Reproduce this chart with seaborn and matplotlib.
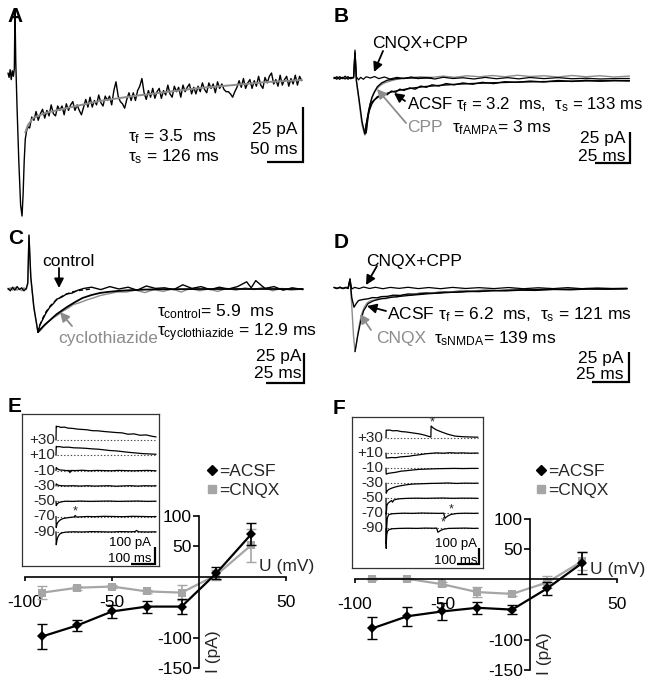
import pandas as pd
import seaborn as sns
import matplotlib.pyplot as plt
from matplotlib.lines import Line2D
from matplotlib.patches import FancyArrowPatch

sns.set_style("white")
plt.rcParams["font.family"] = ["Liberation Sans", "DejaVu Sans"]
plt.rcParams["mathtext.fontset"] = "custom"
plt.rcParams["mathtext.rm"] = "Liberation Sans"
plt.rcParams["mathtext.it"] = "Liberation Sans"
plt.rcParams["mathtext.bf"] = "Liberation Sans:bold"
plt.rcParams["axes.unicode_minus"] = False

GREY = "#8c8c8c"
LGREY = "#a6a6a6"

# ---------------- data (time in ms, current in pA) ----------------
# A: sEPSC with double exponential fit
a_t_fast = [0, 1.5, 3, 4.5, 6, 7.5, 8.8, 9.7, 10.8, 12.5, 15, 17.5, 19.5, 21, 22.5, 24, 26, 28]
a_i_fast = [0, -2, 1.5, -3, 1, -1.5, 2, 29, 5, -15, -40, -60, -65, -55, -40, -30, -26, -24.5]
a_t_slow = list(range(30, 409, 3))  # sampling grid of the slow phase
a_i_slow = [-25, -20, -21.5, -17.5, -21.5, -18.5, -16.5, -20.5, -17, -19.5,
            -14.5, -18.5, -19.5, -15, -17, -15, -19, -14, -17, -14.5,
            -13, -17, -14.5, -17, -19, -15.5, -12, -15.5, -11, -15.5,
            -12.5, -14.5, -10, -13.5, -15, -10.5, -12.5, -10.5, -14.5, -8,
            -4, -10.5, -13, -14, -16, -12, -9, -12.5, -9, -12.5,
            -8, -6, -2.5, -9, -12, -8, -11, -7, -11.5, -8.5,
            -7, -11.5, -8, -10, -5.5, -9.5, -11, -6, -8.5, -6.5,
            -11, -5.5, -8.5, -6.5, -5, -9.5, -6.5, -9.5, -6, -8.5,
            -4.5, -7.5, -9, -4.5, -7, -5, -9, -4, -7, -5,
            -7.5, -8.5, -8.5, -9.5, -11, -8.5, -6.5, -3.5, -6.5, -2.5,
            -7, -4.5, -3, -7, -3.5, -6, -1.5, -5.5, -7, -2,
            -4.5, -1.5, 0, -5, -3, -6, -1, -5.5, -3, -1.5,
            -6, -2.5, -5, -1, -5.5, -1.5, -3.5]
a_fit_t = [24, 27.8, 34.7, 51.4, 81.9, 127.8, 173.6, 220.8, 266.7, 312.5, 359.7, 408.3]
a_fit_i = [-27, -23.6, -20.5, -18.2, -15.9, -12.7, -10.5, -8.6, -6.8, -5.5, -4.1, -3.2]

# B: ACSF / CPP / CNQX+CPP
b_cc_t = [0, 2, 4, 6, 8, 10, 12, 14, 15, 16, 17.5, 19, 21, 23, 26, 29, 32, 36, 40, 45, 50, 55, 60,
          66, 72, 78, 85, 92, 100, 108, 116, 124, 132, 140, 150, 160, 170, 180, 190, 200, 211]
b_cc_i = [0.5, -1, 1, -0.5, 1.5, -1, 0.5, 0, 22.5, 1, -1.5, 0.5, -1, 1, 0, 1.2, -0.5, 0.8, -0.8,
          0.5, -0.5, 0.8, -0.5, 0.3, -0.8, 0.6, -0.4, 0.2, -0.8, 0.5, -0.6, 0.3, -0.7, 0.4, -0.5,
          0.3, -0.6, -0.2, -0.8, -0.5, -0.4]
b_acsf_t = [0, 2, 4, 6, 8, 10, 12, 14, 15, 16, 18, 20, 22, 23, 24.5, 26, 27.5, 29, 31, 33, 35, 38,
            41, 44, 47, 50, 54, 58, 62, 66, 70, 75, 80, 86, 92, 99, 106, 114, 122, 130, 140, 150,
            160, 170, 180, 190, 200, 211]
b_acsf_i = [-0.5, 1, -1, 0.5, -0.5, 1, -0.5, 0.5, 20, -2, -18, -35, -45, -44, -30, -21, -19,
            -17.5, -15, -14.5, -12.5, -13.5, -10.5, -11.5, -9, -10, -8, -9, -6.5, -7.5, -5.5,
            -6.5, -4.5, -5.5, -4, -5, -3.5, -4.5, -3, -3.5, -2.5, -3.2, -2, -2.8, -1.8, -2.6,
            -2, -2.4]
b_cpp_t = [0, 2, 4, 6, 8, 10, 12, 14, 15, 16, 18, 20, 22, 23, 24.5, 26, 28, 30, 33, 36, 40, 45,
           50, 56, 62, 70, 78, 86, 95, 104, 113, 122, 131, 140, 150, 160, 170, 180, 190, 200, 211]
b_cpp_i = [0.5, -0.5, 1, 0, -1, 0.5, -0.5, 1, 21, -3, -20, -38, -46, -44, -28, -20, -13, -9.5,
           -6, -4, -2.5, -1, 0, 0.5, 1, 0.5, 1.5, 0.5, 1.8, 1, 2, 1, 2.2, 1.2, 1.8, 0.8, 2, 1,
           1.8, 0.8, 1.5]
b_ampa_t = [22, 23.5, 25, 27, 29, 31, 34, 38, 44, 55, 70]
b_ampa_i = [-44, -34, -25, -16, -11, -7, -4, -1.8, -0.6, 0, 0]
b_fit_t = [22, 23.5, 25, 27, 29, 32, 36, 41, 47, 55, 64, 75, 88, 100, 115, 135, 160, 185, 211]
b_fit_i = [-44, -35, -27, -21, -17.5, -15, -13, -11.3, -9.8, -8.3, -7, -6, -5, -4.4, -3.8,
           -3.2, -2.7, -2.3, -2.1]

# C: control / cyclothiazide
c_ctl_t = [0, 1.5, 3, 4.5, 6, 7.5, 9, 10.5, 12, 13, 13.8, 15, 17, 19.7, 21, 23, 25, 27.6, 30,
           32, 35, 38.8, 42, 46, 50, 55, 61, 67, 73, 79, 85, 91, 97, 103, 109, 115, 121, 127,
           133, 139, 145, 151, 157, 160, 163, 169, 175, 181, 187, 194]
c_ctl_i = [0.5, -1.5, 1.5, -1, 2, -0.5, 1, -1.5, 0.5, 5, 45, 10, -15, -36, -30, -25, -20, -15,
           -12, -8.5, -7, -4, -3.5, -1, 0.5, 1.5, -0.5, 2, 0, 1.5, -1, 2.5, 0.5, 1, -0.5, 3.5,
           0.5, 2, -0.5, 1.5, 0, 2, 6, 1, 7, 0.5, 2, -1, 1, -0.5]
c_ctz_t = [0, 1.5, 3, 4.5, 6, 7.5, 9, 10.5, 12, 13, 13.8, 15, 17, 19.7, 21, 23, 26, 29.6, 33, 36,
           39.5, 42.8, 47, 52, 56, 60.5, 66, 71.7, 78, 84, 90, 96, 102, 108, 114, 120, 126, 132,
           138, 144, 150, 156, 162, 168, 174, 180, 186, 194]
c_ctz_i = [-0.5, 1, -1, 1.5, -1, 0.5, -1.5, 1, -0.5, 4, 44, 9, -16, -36, -35, -32, -28, -24,
           -21.5, -18.5, -16, -13, -11.5, -9, -7.5, -5.5, -4, -2.5, -2.5, -1, -3, -0.5, -2, 0,
           -2.5, 0.5, -1.5, 0, -2, 0.5, -1, 1, -0.5, 1.5, -1.5, 0.5, -1, 0]
c_fit_t = [19.7, 21, 24, 27.6, 32, 38.8, 44, 49, 55, 60.5, 66, 71.7, 80, 90, 100, 130, 194]
c_fit_i = [-36, -34, -30, -26, -21, -15, -11, -7.5, -5, -3.3, -2.4, -1.7, -1, -0.5, -0.2, 0, 0]
c_dfit_t = [19.7, 21, 23, 25, 27.6, 30, 33, 37, 42, 48, 55]
c_dfit_i = [-36, -30, -24, -19, -14.5, -11, -8, -5, -2.5, -1, 0]

# D: ACSF / CNQX / CNQX+CPP
d_cc_t = [0, 2, 4, 6, 8, 9.5, 10.8, 12, 14, 17, 20, 24, 28, 33, 38, 44, 50, 57, 64, 72, 80, 89,
          98, 108, 118, 128, 138, 148, 158, 168, 178, 188, 198]
d_cc_i = [0.5, -0.5, 0.8, -0.3, 0.6, -0.5, 7.5, -0.8, 0.5, -0.5, 0.8, -0.4, 0.6, -0.6, 0.5, -0.3,
          0.6, -0.5, 0.4, -0.6, 0.5, -0.4, 0.3, -0.5, 0.4, -0.6, 0.2, -0.5, 0.3, -0.6, 0, -0.4,
          -0.2]
d_cnqx_t = [0, 2, 4, 6, 8, 9.5, 10.8, 12, 13.2, 14.2, 15.2, 16.2, 17.5, 18.9, 20.5, 22.3, 25, 28,
            31, 35, 39, 42.6, 47, 52, 58, 65, 72, 78, 86, 94, 102, 112, 122, 132, 145, 158, 171,
            184, 198]
d_cnqx_i = [0.3, -0.5, 0.5, -0.3, 0.5, -0.3, 7, -15, -40, -53, -46, -37, -28, -21, -16, -12.5,
            -10.5, -10, -8.5, -9, -7, -7.5, -5.5, -6, -4, -4.5, -3, -3.5, -2, -2.5, -1.5, -2,
            -1, -1.5, -0.5, -1.2, -0.3, -0.8, -0.5]
d_acsf_t = [0, 2, 4, 6, 8, 9.5, 10.8, 12, 13.5, 15, 16.5, 18, 20, 23, 26, 29, 32, 36, 40, 45, 50,
            56, 62, 68, 75, 82, 90, 98, 107, 116, 126, 136, 148, 160, 172, 185, 198]
d_acsf_i = [0.5, -0.3, 0.4, -0.5, 0.3, -0.2, 7.5, -8, -16, -13, -10.5, -10, -9.5, -9, -8, -8.2,
            -7.2, -7, -6, -6.2, -5, -5.2, -4.2, -4.4, -3.5, -3.6, -2.8, -3, -2.2, -2.4, -1.8,
            -2, -1.2, -1.5, -0.8, -1, -0.6]
d_fit_t = [14.2, 16, 18, 20, 23, 27, 32, 40, 50, 65, 80, 100, 130, 165, 198]
d_fit_i = [-53, -40, -28, -19, -13, -10.5, -9, -7.6, -6.3, -4.7, -3.6, -2.5, -1.5, -0.9, -0.6]

# E / F insets: holding potential (mV) -> (time, current relative to baseline)
hold_mv = [30, 10, -10, -30, -50, -70, -90]
hold_labels = ["+30", "+10", "-10", "-30", "-50", "-70", "-90"]
e_traces = {
    30: ([0, 1, 4, 10, 20, 35, 50, 70, 90, 110, 130, 150, 175, 200, 225, 250, 275, 300, 325, 350, 375, 400, 417],
         [0, 82, 78, 80, 74, 76, 70, 68, 64, 62, 60, 55, 54, 50, 47, 44, 42, 34, 36, 28, 30, 22, 18]),
    10: ([0, 1, 5, 15, 30, 50, 75, 100, 125, 150, 175, 200, 225, 250, 275, 300, 330, 360, 390, 417],
         [0, 53, 50, 51, 47, 48, 44, 43, 41, 38, 36, 32, 28, 26, 22, 18, 14, 10, 8, 6]),
    -10: ([0, 1, 6, 15, 30, 45, 55, 58, 62, 80, 110, 140, 170, 200, 230, 260, 290, 320, 350, 380, 417],
          [0, 18, 10, 4, 2, 0, 1, -12, 1, 0, 2, -1, 1, 0, -1, 1, 0, -1, 0, 1, -1]),
    -30: ([0, 1, 6, 15, 40, 70, 100, 130, 160, 190, 220, 250, 280, 310, 340, 370, 400, 417],
          [0, 12, 6, 2, 0, 1, -1, 1, -1, 0, 1, -2, 0, 1, -1, 1, 0, 1]),
    -50: ([0, 1, 5, 12, 25, 40, 70, 100, 140, 180, 220, 260, 300, 340, 380, 417],
          [0, -26, -16, -8, -3, 0, -1, 1, -1, 0, 1, -1, 0, 1, -1, 0]),
    -70: ([0, 1, 4, 10, 20, 30, 45, 60, 75, 80, 85, 100, 130, 160, 200, 240, 280, 320, 360, 400, 417],
          [0, -65, -45, -30, -18, -12, -8, -5, -3, 6, -3, -2, 0, -1, 1, 0, -1, 1, 0, -1, 0]),
    -90: ([0, 1, 4, 8, 15, 25, 40, 70, 110, 150, 190, 230, 270, 310, 330, 335, 345, 380, 417],
          [0, -76, -50, -30, -14, -6, -2, 0, -1, 1, 0, -1, 1, 0, 1, 8, 0, -1, 0]),
}
e_stars = [(-70, 79, 32)]
f_traces = {
    30: ([0, 1, 5, 15, 30, 50, 70, 90, 110, 130, 150, 170, 190, 204, 205, 215, 230, 254, 280, 313, 350, 390, 418],
         [0, 50, 48, 50, 45, 46, 40, 38, 34, 30, 26, 20, 12, 6, 75, 62, 50, 37, 24, 12, 8, 6, 5]),
    10: ([0, 1, 10, 25, 45, 65, 85, 105, 125, 145, 165, 185, 205, 230, 260, 290, 320, 350, 380, 418],
         [0, -31, -30, -28, -29, -24, -22, -20, -15, -12, -8, -4, -2, 1, -1, 2, 0, 1, -1, 0]),
    -10: ([0, 1, 10, 25, 45, 70, 95, 120, 150, 190, 230, 270, 310, 350, 390, 418],
          [0, -38, -33, -30, -26, -19, -16, -12, -8, -6, -4, -3, -2, -3, -2, -2]),
    -30: ([0, 1, 5, 12, 25, 40, 60, 90, 120, 160, 200, 240, 280, 320, 360, 400, 418],
          [0, -63, -50, -40, -32, -25, -18, -11, -6, -4, -2, -1, 1, -2, 0, -1, 0]),
    -50: ([0, 1, 4, 10, 18, 25, 30, 35, 50, 70, 100, 140, 180, 220, 260, 300, 340, 380, 418],
          [0, -100, -45, -30, -22, -15, -25, -12, -6, -3, -1, 0, -1, 0, 1, -1, 0, 0, -1]),
    -70: ([0, 1, 3, 6, 12, 25, 45, 80, 120, 160, 200, 240, 262, 268, 280, 295, 320, 360, 400, 418],
          [0, -220, -90, -30, -10, -4, -2, 0, -1, 1, 0, -1, 0, -31, -18, -8, -2, 0, -1, 0]),
    -90: ([0, 1, 3, 7, 15, 30, 60, 100, 140, 180, 215, 230, 236, 248, 262, 285, 320, 360, 400, 418],
          [0, -100, -40, -18, -8, -3, -1, 0, -1, 1, 0, 1, -25, -14, -6, -1, 0, 1, -1, 0]),
}
f_stars = [(30, 209, 100), (-70, 295, 26), (-90, 259, 39)]

# E / F: I-V relations
iv_u = [-90, -70, -50, -30, -10, 10, 30]
e_acsf_i = [-98, -80, -57, -49, -49, 6, 70]
e_acsf_err = [21, 9, 10, 10, 12, 10, 18]
e_cnqx_i = [-26, -18, -16, -24, -26, 3, 52]
e_cnqx_err = [11, 3, 3, 3, 12, 8, 27]
f_acsf_i = [-81, -61, -53, -47, -50, -15, 27]
f_acsf_err = [18, 16, 14, 10, 7, 10, 18]
f_cnqx_i = [1, 1, -8, -21, -24, -5, 30]
f_cnqx_err = [2, 2, 3, 8, 3, 10, 15]

# ---------------- figure ----------------
W, H = 648, 684
fig = plt.figure(figsize=(W / 100, H / 100), dpi=100)
fig.patch.set_facecolor("white")


def fxy(x, y):
    return x / W, 1 - y / H


def add_axes_px(x0, y0, w, h):
    return fig.add_axes([x0 / W, 1 - (y0 + h) / H, w / W, h / H])


def trace_axes(x0, y0, w, h, t0, base, sx, sy, frame=False):
    ax = add_axes_px(x0, y0, w, h)
    ax.set_xlim((x0 - t0) / sx, (x0 + w - t0) / sx)
    ax.set_ylim((base - (y0 + h)) / sy, (base - y0) / sy)
    ax.set_autoscale_on(False)
    if frame:
        ax.set_xticks([])
        ax.set_yticks([])
        for s in ax.spines.values():
            s.set_visible(True)
            s.set_color("#333333")
            s.set_linewidth(0.9)
    else:
        ax.axis("off")
        ax.patch.set_visible(False)
    ax.px = (t0, base, sx, sy)
    return ax


def to_data(ax, x, y):
    t0, base, sx, sy = ax.px
    return (x - t0) / sx, (base - y) / sy


def trace(ax, t, v, color="k", lw=0.9, **kw):
    sns.lineplot(x=t, y=v, ax=ax, color=color, lw=lw, estimator=None, sort=False, **kw)


def scale_bar(ax, corner_px, dt, di, lw=1.6):
    t, i = to_data(ax, *corner_px)
    ax.plot([t - dt, t, t], [i, i, i + di], color="k", lw=lw, solid_joinstyle="miter",
            solid_capstyle="butt", clip_on=False)


def txt(x, yc, s, fs=12.5, color="k", ha="left", **kw):
    # yc = visual centre of capitals in pixels
    fig.text(x / W, 1 - (yc + 0.36 * fs * 100 / 72) / H, s, fontsize=fs, color=color,
             ha=ha, va="baseline", **kw)


def arrow(tail, tip, color="k", lw=1.3):
    fig.add_artist(FancyArrowPatch(posA=fxy(*tail), posB=fxy(*tip), transform=fig.transFigure,
                                   arrowstyle="-|>,head_length=0.55,head_width=0.28",
                                   mutation_scale=10, color=color, lw=lw,
                                   shrinkA=0, shrinkB=0))


# ----- A -----
axA = trace_axes(0, 0, 324, 220, 8, 73, 0.72, 2.2)
trace(axA, a_t_fast + a_t_slow, a_i_fast + a_i_slow, lw=1.0)
trace(axA, a_fit_t, a_fit_i, color=GREY, lw=1.4)
scale_bar(axA, (303, 162), 50, 25)
txt(128, 135, "$τ_{f}$ = 3.5  ms")
txt(128, 155, "$τ_{s}$ = 126 ms")
txt(298, 128, "25 pA", ha="right")
txt(298, 148, "50 ms", ha="right")

# ----- B -----
axB = trace_axes(324, 0, 324, 220, 334, 78, 1.4, 1.24)
trace(axB, b_cpp_t, b_cpp_i, color=GREY, lw=1.0)
trace(axB, b_cc_t, b_cc_i, lw=0.9)
trace(axB, b_acsf_t, b_acsf_i, lw=1.0)
trace(axB, b_ampa_t, b_ampa_i, lw=1.0)
trace(axB, b_fit_t, b_fit_i, lw=1.0)
scale_bar(axB, (630, 163), 25, 25)
txt(372, 42, "CNQX+CPP")
arrow((383, 51), (374, 72))
txt(407, 103, "ACSF $τ_{f}$ = 3.2  ms,  $τ_{s}$ = 133 ms", fs=12.1)
arrow((405, 101), (394, 93))
txt(407, 126, "CPP", color=GREY)
arrow((406, 123), (377, 89), color=GREY)
txt(452, 126, "$τ_{fAMPA}$= 3 ms")
txt(626, 137, "25 pA", ha="right")
txt(626, 155, "25 ms", ha="right")

# ----- C -----
axC = trace_axes(0, 220, 324, 220, 8, 289, 1.52, 1.2)
trace(axC, c_ctz_t, c_ctz_i, color=GREY, lw=1.0)
trace(axC, c_ctl_t, c_ctl_i, lw=1.0)
trace(axC, c_fit_t, c_fit_i, lw=1.3)
trace(axC, c_dfit_t, c_dfit_i, lw=1.0, linestyle=(0, (3, 2)))
scale_bar(axC, (304, 383), 25, 25)
txt(42, 260, "control")
arrow((59, 268), (59, 288))
txt(58, 337, "cyclothiazide", color=GREY)
arrow((72, 326), (60, 312), color=GREY)
txt(157, 310, "$τ_{control}$= 5.9  ms")
txt(157, 330, "$τ_{cyclothiazide}$ = 12.9 ms")
txt(302, 355, "25 pA", ha="right")
txt(302, 372, "25 ms", ha="right")

# ----- D -----
axD = trace_axes(324, 220, 324, 180, 334, 288, 1.48, 1.2)
trace(axD, d_cnqx_t, d_cnqx_i, color=GREY, lw=1.0)
trace(axD, d_cc_t, d_cc_i, lw=0.9)
trace(axD, d_acsf_t, d_acsf_i, lw=1.0)
trace(axD, d_fit_t, d_fit_i, lw=0.9)
scale_bar(axD, (629, 382), 25, 25)
txt(366, 260, "CNQX+CPP")
arrow((377, 266), (366, 285))
txt(387, 313, "ACSF $τ_{f}$ = 6.2  ms,  $τ_{s}$ = 121 ms")
arrow((386, 311), (367, 306))
txt(376, 337, "CNQX", color=GREY)
arrow((371, 330), (360, 314), color=GREY)
txt(434, 337, "$τ_{sNMDA}$= 139 ms")
txt(624, 357, "25 pA", ha="right")
txt(624, 373, "25 ms", ha="right")


# ----- insets -----
def draw_inset(box, t0, base, sx, sy, step, traces, stars, lab_t, corner, lab_x, lab_y):
    x0, y0, x1, y1 = box
    ax = trace_axes(x0, y0, x1 - x0, y1 - y0, t0, base, sx, sy, frame=True)
    t_end = max(traces[30][0])
    for mv, lab in zip(hold_mv, hold_labels):
        off = -(30 - mv) / 20 * step
        ax.plot([3, t_end], [off, off], color="#444444", lw=0.8, ls=(0, (1.2, 1.8)))
        t, v = traces[mv]
        trace(ax, t, [off + x for x in v], lw=0.9)
        ax.text(lab_t, off, lab, ha="right", va="center", fontsize=11)
    for mv, t, v in stars:
        off = -(30 - mv) / 20 * step
        ax.text(t, off + v, "*", ha="center", va="center", fontsize=9)
    t, i = to_data(ax, *corner)
    ax.plot([t - 100, t, t], [i, i, i + 100], color="k", lw=1.6, solid_joinstyle="miter",
            solid_capstyle="butt")
    txt(lab_x, lab_y[0], "100 pA", fs=9.5, ha="right")
    txt(lab_x, lab_y[1], "100 ms", fs=9.5, ha="right")
    return ax


draw_inset((22, 414, 159, 566), 56, 440, 0.24, 0.17, 90, e_traces, e_stars, -3,
           (155, 564), 151, (541, 557))
draw_inset((352, 417, 483, 568), 386, 438, 0.22, 0.16, 94, f_traces, f_stars, -12,
           (479, 564), 477, (542, 559))


# ----- I-V plots -----
def draw_iv(x_m100, x_p50, y_p100, y_m150, acsf, acsf_err, cnqx, cnqx_err, leg_xy):
    ax = add_axes_px(x_m100, y_p100, x_p50 - x_m100, y_m150 - y_p100)
    ax.patch.set_visible(False)
    df = pd.DataFrame({"U": iv_u * 2, "I": cnqx + acsf,
                       "cond": ["CNQX"] * len(iv_u) + ["ACSF"] * len(iv_u)})
    ax.errorbar(iv_u, cnqx, yerr=cnqx_err, fmt="none", ecolor=LGREY, elinewidth=1.2, capsize=3.5)
    sns.lineplot(data=df[df.cond == "CNQX"], x="U", y="I", color=LGREY, marker="s",
                 markersize=6, markeredgewidth=0, lw=1.6, estimator=None, ax=ax)
    ax.errorbar(iv_u, acsf, yerr=acsf_err, fmt="none", ecolor="k", elinewidth=1.2, capsize=3.5)
    sns.lineplot(data=df[df.cond == "ACSF"], x="U", y="I", color="k", marker="D",
                 markersize=5.5, markeredgewidth=0, lw=1.6, estimator=None, ax=ax)
    ax.set_xlim(-100, 50)
    ax.set_ylim(-150, 100)
    ax.set_xlabel("")
    ax.set_ylabel("")
    for s in ["top", "right"]:
        ax.spines[s].set_visible(False)
    for s in ["left", "bottom"]:
        ax.spines[s].set_position(("data", 0))
        ax.spines[s].set_color("k")
        ax.spines[s].set_linewidth(1.2)
    ax.set_xticks([-100, -50, 50])
    ax.set_yticks([-150, -100, 50, 100])
    ax.tick_params(axis="x", bottom=True, direction="out", length=3, width=1.2, pad=10,
                   labelsize=12.5, colors="k")
    ax.tick_params(axis="y", left=True, direction="out", length=4, width=1.2, pad=1,
                   labelsize=12.5, colors="k")
    ax.text(66, 17, "U (mV)", ha="right", va="center", fontsize=12.5, clip_on=False)
    ax.text(8.5, -123, "I (pA)", ha="center", va="center", rotation=90, fontsize=12.5)
    handles = [Line2D([], [], color="k", marker="D", ls="none", markersize=5),
               Line2D([], [], color=LGREY, marker="s", ls="none", markersize=5.5)]
    ax.legend(handles, ["=ACSF", "=CNQX"], loc="center left", bbox_to_anchor=fxy(*leg_xy),
              bbox_transform=fig.transFigure, frameon=False, handlelength=0.5,
              handletextpad=0.15, borderpad=0, borderaxespad=0, labelspacing=0.25,
              fontsize=12.5)
    return ax


draw_iv(25, 286, 516, 668, e_acsf_i, e_acsf_err, e_cnqx_i, e_cnqx_err, (208, 481))
draw_iv(355, 617, 519, 670, f_acsf_i, f_acsf_err, f_cnqx_i, f_cnqx_err, (537, 481))

# panel letters
for lab, x, y in [("A", 7, 14), ("B", 334, 15), ("C", 8, 237), ("D", 334, 240),
                  ("E", 8, 404), ("F", 333, 407)]:
    txt(x, y, lab, fs=15, fontweight="bold")

fig.savefig("out.png", dpi=100, facecolor="white")
